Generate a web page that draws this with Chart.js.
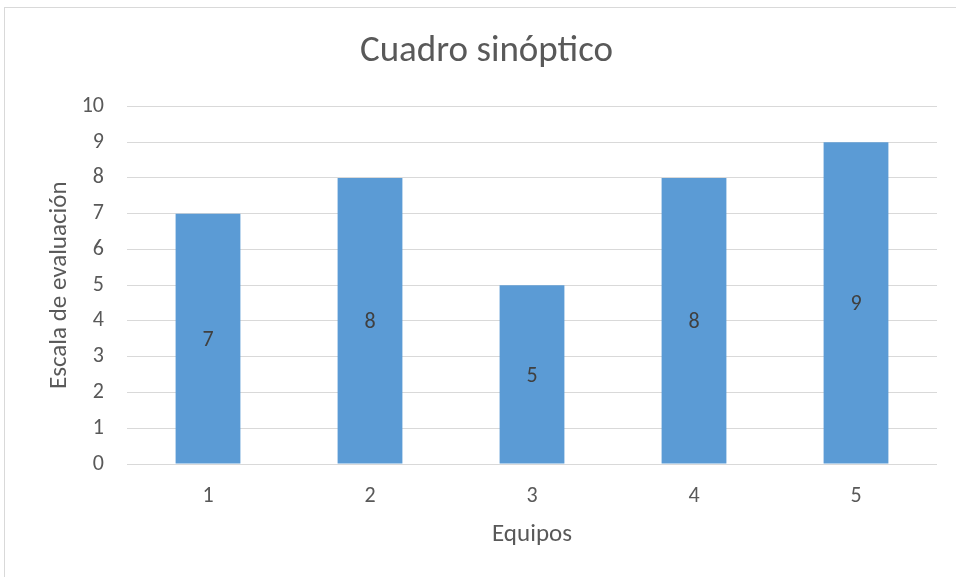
<!DOCTYPE html>
<html>
<head>
<meta charset="utf-8">
<script src="https://cdn.jsdelivr.net/npm/chart.js@4/dist/chart.umd.min.js"></script>
<style>
  html, body { margin: 0; padding: 0; background: #fff; }
  #wrap { position: relative; width: 956px; height: 577px; }
</style>
</head>
<body>
<div id="wrap"><canvas id="c" width="956" height="577"></canvas></div>
<script>
const categories = ['1', '2', '3', '4', '5'];
const values = [7, 8, 5, 8, 9];
const yTicks = [0, 1, 2, 3, 4, 5, 6, 7, 8, 9, 10];
const chartTitle = 'Cuadro sinóptico';
const xTitle = 'Equipos';
const yTitle = 'Escala de evaluación';

const FONT = 'Carlito, Lato, "Open Sans", sans-serif';
const TEXT = '#595959';

const frame = {
  id: 'frame',
  beforeDraw(chart) {
    const ctx = chart.ctx;
    ctx.save();
    ctx.fillStyle = '#fff';
    ctx.fillRect(0, 0, chart.width, chart.height);
    ctx.strokeStyle = '#d9d9d9';
    ctx.lineWidth = 1;
    ctx.strokeRect(4.5, 7.5, 980, 600);
    ctx.restore();
  }
};

const barLabels = {
  id: 'barLabels',
  afterDatasetsDraw(chart) {
    const ctx = chart.ctx;
    const meta = chart.getDatasetMeta(0);
    ctx.save();
    ctx.font = '22px ' + FONT;
    ctx.fillStyle = '#404040';
    ctx.textAlign = 'center';
    ctx.textBaseline = 'middle';
    meta.data.forEach((bar, i) => {
      const mid = (bar.y + bar.base) / 2;
      ctx.fillText(String(values[i]), bar.x, mid + 2);
    });
    ctx.restore();
  }
};

new Chart(document.getElementById('c'), {
  type: 'bar',
  data: {
    labels: categories,
    datasets: [{
      data: values,
      backgroundColor: '#5B9BD5',
      borderWidth: 0,
      categoryPercentage: 1,
      barPercentage: 0.4
    }]
  },
  options: {
    responsive: false,
    animation: false,
    devicePixelRatio: 1,
    layout: { padding: { left: 36, right: 19, top: 0, bottom: 27 } },
    plugins: {
      legend: { display: false },
      tooltip: { enabled: false },
      title: {
        display: true,
        text: chartTitle,
        color: TEXT,
        font: { family: FONT, size: 37, weight: 'normal', lineHeight: 1.2 },
        padding: { top: 30, bottom: 32 }
      }
    },
    scales: {
      x: {
        grid: { display: false, drawTicks: false },
        border: { display: false },
        ticks: { color: TEXT, font: { family: FONT, size: 22 }, padding: 19 },
        title: {
          display: true, text: xTitle, color: TEXT,
          font: { family: FONT, size: 25, lineHeight: 1.2 },
          padding: { top: 0, bottom: 0 }
        },
        afterFit(s) { s.height = 86; }
      },
      y: {
        min: 0, max: 10,
        afterBuildTicks(s) { s.ticks = yTicks.map(v => ({ value: v })); },
        grid: { color: '#d9d9d9', lineWidth: 1, drawTicks: false },
        border: { display: false },
        ticks: { color: TEXT, font: { family: FONT, size: 22 }, padding: 23 },
        title: {
          display: true, text: yTitle, color: TEXT,
          font: { family: FONT, size: 25, lineHeight: 1.2 },
          padding: { top: 9, bottom: 0 }
        },
        afterFit(s) { s.width = 91; }
      }
    }
  },
  plugins: [frame, barLabels]
});
</script>
</body>
</html>
